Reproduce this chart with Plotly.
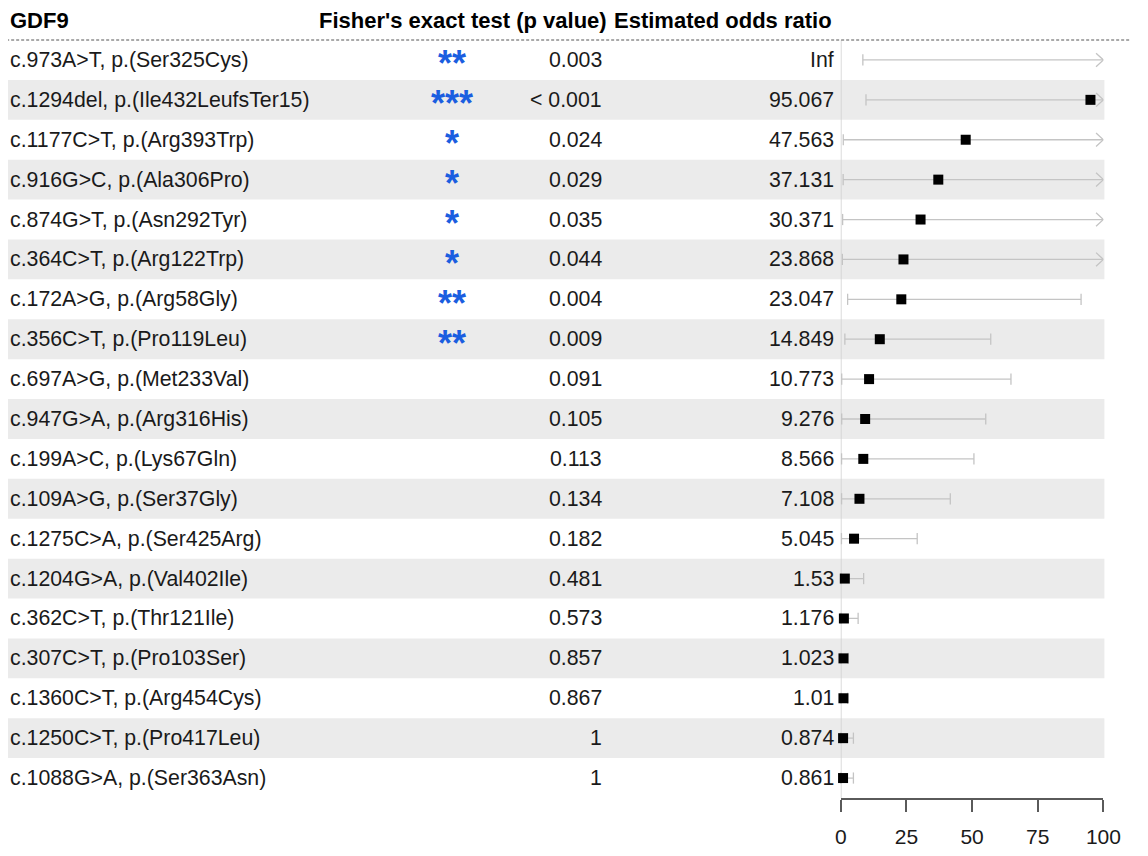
import plotly.graph_objects as go

# ---------------- data ----------------
variants = [
    "c.973A>T, p.(Ser325Cys)",
    "c.1294del, p.(Ile432LeufsTer15)",
    "c.1177C>T, p.(Arg393Trp)",
    "c.916G>C, p.(Ala306Pro)",
    "c.874G>T, p.(Asn292Tyr)",
    "c.364C>T, p.(Arg122Trp)",
    "c.172A>G, p.(Arg58Gly)",
    "c.356C>T, p.(Pro119Leu)",
    "c.697A>G, p.(Met233Val)",
    "c.947G>A, p.(Arg316His)",
    "c.199A>C, p.(Lys67Gln)",
    "c.109A>G, p.(Ser37Gly)",
    "c.1275C>A, p.(Ser425Arg)",
    "c.1204G>A, p.(Val402Ile)",
    "c.362C>T, p.(Thr121Ile)",
    "c.307C>T, p.(Pro103Ser)",
    "c.1360C>T, p.(Arg454Cys)",
    "c.1250C>T, p.(Pro417Leu)",
    "c.1088G>A, p.(Ser363Asn)",
]
stars = ["**", "***", "*", "*", "*", "*", "**", "**",
         "", "", "", "", "", "", "", "", "", "", ""]
p_text = ["0.003", "< 0.001", "0.024", "0.029", "0.035", "0.044", "0.004", "0.009",
          "0.091", "0.105", "0.113", "0.134", "0.182", "0.481", "0.573", "0.857",
          "0.867", "1", "1"]
or_text = ["Inf", "95.067", "47.563", "37.131", "30.371", "23.868", "23.047", "14.849",
           "10.773", "9.276", "8.566", "7.108", "5.045", "1.53", "1.176", "1.023",
           "1.01", "0.874", "0.861"]
or_value = [None, 95.067, 47.563, 37.131, 30.371, 23.868, 23.047, 14.849,
            10.773, 9.276, 8.566, 7.108, 5.045, 1.53, 1.176, 1.023,
            1.01, 0.874, 0.861]
INF = float("inf")
ci_low = [8.4, 9.6, 0.95, 0.9, 0.7, 0.6, 2.6, 1.55, 0.35, 0.35, 0.3, 0.3,
          0.25, 0.12, 0.1, 0.1, 0.1, 0.05, 0.05]
ci_high = [INF, INF, INF, INF, INF, INF, 91.5, 57.1, 64.8, 55.2, 50.7, 41.7,
           29.1, 8.7, 6.6, 2.8, 2.6, 4.8, 4.8]
x_ticks = [0, 25, 50, 75, 100]
header_left = "GDF9"
header_p = "Fisher's exact test (p value)"
header_or = "Estimated odds ratio"

# ---------------- style / layout constants ----------------
# The figure is sized to fit inside the page's default 8px body margin,
# so the page needs no scrollbars.
PAGE_OFF = 8
W, H = 1132, 840
PLOT_TOP, PLOT_BOT = 40, 806.5          # page pixels
T = PLOT_TOP - PAGE_OFF
B = H - (PLOT_BOT - PAGE_OFF)
FONT = "Liberation Sans, Arial, sans-serif"
TXT = "#1a1a1a"
STAR_COL = "#1a5ee0"
BAND = "#ebebeb"
CI_COL = "#c4c4c4"
X_MAX = 100
ARROW_DX = 2.8   # data units
ARROW_DY = 0.17  # row units
AX_LEFT, AX_RIGHT = 852.7, 1121        # page pixels of 0 and 100
n = len(variants)
rows = list(range(1, n + 1))

def fx(v):  # page pixel -> paper x
    return (v - PAGE_OFF) / W

def fy(v):  # page pixel -> paper y
    return 1 - (v - PLOT_TOP) / (PLOT_BOT - PLOT_TOP)

fig = go.Figure()

# CI lines, caps and arrows
lx, ly, cx, cy, ax_, ay_ = [], [], [], [], [], []
for r, lo, hi in zip(rows, ci_low, ci_high):
    end = min(hi, X_MAX)
    lx += [lo, end, None]
    ly += [r, r, None]
    cx.append(lo); cy.append(r)
    if hi > X_MAX:
        ax_ += [X_MAX - ARROW_DX, X_MAX, X_MAX - ARROW_DX, None]
        ay_ += [r - ARROW_DY, r, r + ARROW_DY, None]
    else:
        cx.append(hi); cy.append(r)

fig.add_trace(go.Scatter(x=lx, y=ly, mode="lines",
                         line=dict(color=CI_COL, width=1.3),
                         hoverinfo="skip", showlegend=False, cliponaxis=False))
fig.add_trace(go.Scatter(x=ax_, y=ay_, mode="lines",
                         line=dict(color=CI_COL, width=1.3),
                         hoverinfo="skip", showlegend=False, cliponaxis=False))
fig.add_trace(go.Scatter(x=cx, y=cy, mode="markers",
                         marker=dict(symbol="line-ns", size=8,
                                     line=dict(color=CI_COL, width=1.3)),
                         hoverinfo="skip", showlegend=False, cliponaxis=False))
fig.add_trace(go.Scatter(x=or_value, y=rows, mode="markers",
                         marker=dict(symbol="square", size=10, color="black"),
                         showlegend=False, cliponaxis=False))

shapes = []
for r in rows:
    if r % 2 == 0:
        shapes.append(dict(type="rect", xref="paper", yref="y",
                           x0=fx(0), x1=fx(AX_RIGHT + 1), y0=r - 0.5, y1=r + 0.5,
                           fillcolor=BAND, line=dict(width=0), layer="below"))
shapes.append(dict(type="line", xref="x", yref="paper", x0=0, x1=0, y0=0, y1=1,
                   line=dict(color="#cfcfcf", width=1.5), layer="below"))
shapes.append(dict(type="line", xref="paper", yref="paper", x0=fx(0), x1=fx(1148),
                   y0=1, y1=1, line=dict(color="#555555", width=1, dash="3px,2px")))

BODY = 21.3
ann = []
for r, lab, st, pt, ot in zip(rows, variants, stars, p_text, or_text):
    ann.append(dict(x=fx(1.5), y=r, xref="paper", yref="y", text=lab, showarrow=False,
                    xanchor="left", yanchor="middle",
                    font=dict(family=FONT, size=BODY, color=TXT)))
    if st:
        ann.append(dict(x=fx(455), y=r, xref="paper", yref="y", text="<b>" + st + "</b>",
                        showarrow=False, xanchor="center", yanchor="middle", yshift=-4,
                        font=dict(family=FONT, size=36, color=STAR_COL)))
    ann.append(dict(x=fx(611), y=r, xref="paper", yref="y", text=pt, showarrow=False,
                    xanchor="right", yanchor="middle",
                    font=dict(family=FONT, size=BODY, color=TXT)))
    ann.append(dict(x=fx(847.5), y=r, xref="paper", yref="y", text=ot, showarrow=False,
                    xanchor="right", yanchor="middle",
                    font=dict(family=FONT, size=BODY, color=TXT)))

hfont = dict(family=FONT, size=22, color="black")
hy = fy(20)
ann.append(dict(x=fx(1.5), y=hy, xref="paper", yref="paper", text="<b>" + header_left + "</b>",
                showarrow=False, xanchor="left", yanchor="middle", font=hfont))
ann.append(dict(x=fx(616), y=hy, xref="paper", yref="paper", text="<b>" + header_p + "</b>",
                showarrow=False, xanchor="right", yanchor="middle", font=hfont))
ann.append(dict(x=fx(846), y=hy, xref="paper", yref="paper", text="<b>" + header_or + "</b>",
                showarrow=False, xanchor="right", yanchor="middle", font=hfont))

fig.update_layout(
    width=W, height=H,
    margin=dict(l=0, r=0, t=T, b=B),
    paper_bgcolor="white", plot_bgcolor="rgba(0,0,0,0)",
    shapes=shapes, annotations=ann,
    xaxis=dict(domain=[fx(AX_LEFT), fx(AX_RIGHT)], range=[0, X_MAX],
               tickvals=x_ticks, ticktext=[str(t) for t in x_ticks],
               showgrid=False, zeroline=False, showline=True,
               linecolor="#5a5a5a", linewidth=2,
               ticks="outside", ticklen=12, tickwidth=2, tickcolor="#5a5a5a",
               ticklabelstandoff=7,
               tickfont=dict(family=FONT, size=21, color=TXT)),
    yaxis=dict(range=[n + 0.5, 0.5], showgrid=False, zeroline=False,
               showticklabels=False, showline=False, ticks=""),
)

fig.write_html("out.html", config={"displayModeBar": False})
